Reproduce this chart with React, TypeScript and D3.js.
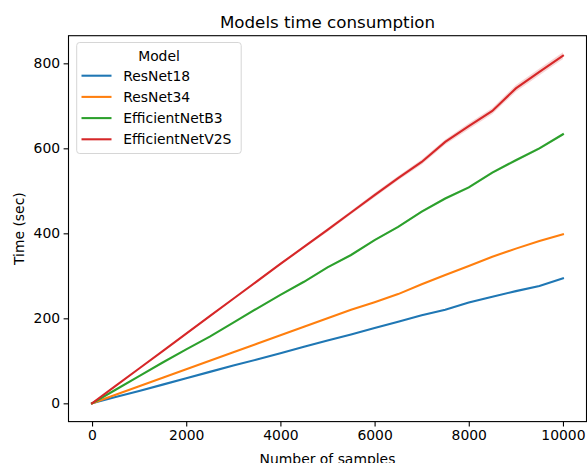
import * as d3 from "d3";
import { useEffect, useRef } from "react";

// ---------------- DATA ----------------
const samples = [0, 500, 1000, 1500, 2000, 2500, 3000, 3500, 4000, 4500, 5000,
    5500, 6000, 6500, 7000, 7500, 8000, 8500, 9000, 9500, 10000];

const resnet18 = [0, 15, 29, 44, 59, 74, 89, 103, 118, 133, 148,
    162, 177, 192, 207, 220, 237, 251, 264, 276, 294];
const resnet34 = [0, 20, 40, 60, 80, 100, 120, 140, 160, 180, 200,
    220, 238, 257, 280, 302, 323, 345, 364, 382, 398];
const effB3 = [0, 32, 64, 96, 127, 157, 190, 223, 255, 286, 320,
    349, 384, 415, 451, 482, 508, 543, 572, 600, 633];
const effV2S = [0, 41, 82, 123, 164, 205, 246, 287, 328, 368, 408,
    449, 490, 530, 568, 615, 652, 688, 741, 780, 818];

// confidence band half widths
const ciV2S = [0, 1, 1, 1, 2, 2, 2, 3, 3, 3, 4, 4, 5, 5, 6, 6, 7, 7, 8, 8, 8];
const ciB3 = [0, 0, 0, 1, 1, 1, 1, 1, 1, 2, 2, 2, 2, 2, 3, 3, 3, 3, 3, 3, 3];
const ciZero = samples.map(() => 0);

const models = ["ResNet18", "ResNet34", "EfficientNetB3", "EfficientNetV2S"];
const colors = ["#1f77b4", "#ff7f0e", "#2ca02c", "#d62728"];
const seriesValues = [resnet18, resnet34, effB3, effV2S];
const seriesCi = [ciZero, ciZero, ciB3, ciV2S];

const xTicks = [0, 2000, 4000, 6000, 8000, 10000];
const yTicks = [0, 200, 400, 600, 800];

export default function App() {
    const refSvg = useRef<SVGSVGElement>(null);

    useEffect(() => {
        const svg = d3.select(refSvg.current);
        svg.selectAll("*").remove();

        const left = 68.5, right = 586.5, top = 35.7, bottom = 421.6;
        const font = "DejaVu Sans, sans-serif";

        const X = d3.scaleLinear().domain([-500, 10500]).range([left, right]);
        const Y = d3.scaleLinear().domain([-43, 865]).range([bottom, top]);

        // bands + lines
        const g = svg.append("g");
        seriesValues.forEach((vals, i) => {
            const ci = seriesCi[i];
            const area = d3.area<number>()
                .x((d, j) => X(samples[j]))
                .y0((d, j) => Y(d - ci[j]))
                .y1((d, j) => Y(d + ci[j]));
            g.append("path").attr("d", area(vals))
                .attr("fill", colors[i]).attr("opacity", 0.2);
        });
        seriesValues.forEach((vals, i) => {
            const line = d3.line<number>()
                .x((d, j) => X(samples[j]))
                .y((d) => Y(d));
            g.append("path").attr("d", line(vals))
                .attr("fill", "none").attr("stroke", colors[i])
                .attr("stroke-width", 2.08).attr("stroke-linecap", "square");
        });

        // axes
        const ax = svg.append("g").attr("transform", `translate(0,${bottom})`)
            .call(d3.axisBottom(X).tickValues(xTicks).tickFormat(d3.format("d"))
                .tickSize(4.9).tickPadding(3.5).tickSizeOuter(0));
        const ay = svg.append("g").attr("transform", `translate(${left},0)`)
            .call(d3.axisLeft(Y).tickValues(yTicks).tickFormat(d3.format("d"))
                .tickSize(4.9).tickPadding(3.5).tickSizeOuter(0));
        [ax, ay].forEach(a => {
            a.select(".domain").remove();
            a.selectAll("line").attr("stroke", "#000").attr("stroke-width", 1.1);
            a.selectAll("text").attr("font-family", font).attr("font-size", 13.9).attr("fill", "#000");
        });

        // spines
        svg.append("rect").attr("x", left).attr("y", top)
            .attr("width", right - left).attr("height", bottom - top)
            .attr("fill", "none").attr("stroke", "#000").attr("stroke-width", 1.1);

        // labels
        svg.append("text").text("Models time consumption")
            .attr("x", (left + right) / 2).attr("y", 27.5)
            .attr("text-anchor", "middle").attr("font-family", font).attr("font-size", 16.7);
        svg.append("text").text("Number of samples")
            .attr("x", (left + right) / 2).attr("y", 463.5)
            .attr("text-anchor", "middle").attr("font-family", font).attr("font-size", 13.9);
        svg.append("text").text("Time (sec)")
            .attr("transform", `translate(24,${(top + bottom) / 2}) rotate(-90)`)
            .attr("text-anchor", "middle").attr("font-family", font).attr("font-size", 13.9);

        // legend
        const lg = svg.append("g");
        lg.append("rect").attr("x", 76.7).attr("y", 42.5).attr("width", 164.5).attr("height", 111)
            .attr("rx", 3).attr("fill", "#fff").attr("fill-opacity", 0.8)
            .attr("stroke", "#d6d6d6").attr("stroke-width", 1);
        lg.append("text").text("Model").attr("x", 159).attr("y", 60.5)
            .attr("text-anchor", "middle").attr("font-family", font).attr("font-size", 13.9);
        models.forEach((m, i) => {
            const yy = 75.7 + i * 21.2;
            lg.append("line").attr("x1", 81.5).attr("x2", 111.5).attr("y1", yy).attr("y2", yy)
                .attr("stroke", colors[i]).attr("stroke-width", 2.08);
            lg.append("text").text(m).attr("x", 123.3).attr("y", yy + 5)
                .attr("font-family", font).attr("font-size", 13.9);
        });
    }, []);

    return (
        <svg ref={refSvg} width={587} height={463}
            style={{ position: "absolute", left: 0, top: 0, background: "#fff" }} />
    );
}
